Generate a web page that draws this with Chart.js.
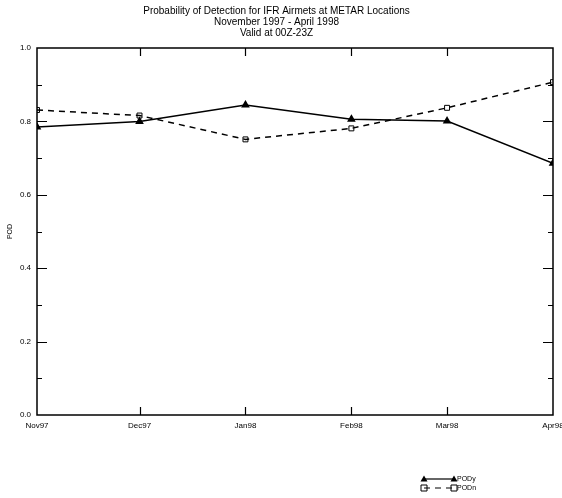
<!DOCTYPE html>
<html>
<head>
<meta charset="utf-8">
<script src="https://cdn.jsdelivr.net/npm/chart.js@4.4.1/dist/chart.umd.min.js"></script>
<style>
  html, body { margin: 0; padding: 0; background: #fff; }
</style>
</head>
<body>
<canvas id="pod" width="562" height="498"></canvas>
<script>
// months on the x axis, as day offsets from 1 Nov 1997
const months = ['Nov97', 'Dec97', 'Jan98', 'Feb98', 'Mar98', 'Apr98']
const monthDays = [0, 30, 61, 92, 120, 151]

const podY = [0.785, 0.800, 0.845, 0.806, 0.801, 0.686]
const podN = [0.831, 0.816, 0.751, 0.781, 0.837, 0.907]

const titleLines = [
    'Probability of Detection for IFR Airmets at METAR Locations',
    'November 1997 - April 1998',
    'Valid at 00Z-23Z'
]

const FONT = "'Liberation Sans', Arial, sans-serif"

function toPoints(values){
    return values.map((v, i) => ({x: monthDays[i], y: v}))
}

// box round the plot with inward ticks on all four sides
const frameTicks = {
    id: 'frameTicks',
    afterDatasetsDraw(chart){
        const {ctx, chartArea: a, scales: {x, y}} = chart
        ctx.save()
        ctx.strokeStyle = '#000'
        ctx.lineWidth = 1.5
        ctx.strokeRect(a.left, a.top, a.right - a.left, a.bottom - a.top)
        ctx.lineWidth = 1.2
        ctx.beginPath()
        for (let i = 1; i < 10; i++){
            const py = Math.round(y.getPixelForValue(i / 10)) + 0.5
            const len = i % 2 ? 5 : 10
            ctx.moveTo(a.left, py); ctx.lineTo(a.left + len, py)
            ctx.moveTo(a.right - len, py); ctx.lineTo(a.right, py)
        }
        monthDays.slice(1, -1).forEach(d => {
            const px = Math.round(x.getPixelForValue(d)) + 0.5
            ctx.moveTo(px, a.bottom); ctx.lineTo(px, a.bottom - 8)
            ctx.moveTo(px, a.top); ctx.lineTo(px, a.top + 8)
        })
        ctx.stroke()
        ctx.restore()
    }
}

function drawMarker(ctx, style, cx, cy){
    ctx.beginPath()
    if (style === 'triangle'){
        ctx.moveTo(cx, cy - 3.5)
        ctx.lineTo(cx + 3.5, cy + 2.5)
        ctx.lineTo(cx - 3.5, cy + 2.5)
        ctx.closePath()
        ctx.fill()
    } else {
        ctx.rect(cx - 3, cy - 3, 6, 6)
        ctx.stroke()
    }
}

// legend bottom right: line sample with a marker at each end
const sampleLegend = {
    id: 'sampleLegend',
    afterDraw(chart){
        const {ctx, chartArea: a} = chart
        const x0 = a.right - 129
        ctx.save()
        ctx.strokeStyle = '#000'
        ctx.fillStyle = '#000'
        ctx.font = '7px ' + FONT
        ctx.textBaseline = 'middle'
        chart.data.datasets.forEach((ds, i) => {
            const ly = a.bottom + 64 + i * 9
            ctx.lineWidth = 1.2
            ctx.setLineDash(ds.borderDash || [])
            ctx.beginPath()
            ctx.moveTo(x0, ly); ctx.lineTo(x0 + 30, ly)
            ctx.stroke()
            ctx.setLineDash([])
            ctx.lineWidth = 1
            drawMarker(ctx, ds.pointStyle, x0, ly)
            drawMarker(ctx, ds.pointStyle, x0 + 30, ly)
            ctx.fillText(ds.label, x0 + 33, ly)
        })
        ctx.restore()
    }
}

const config = {
    type: 'line',
    data: {
        datasets: [{
            label: 'PODy',
            data: toPoints(podY),
            borderColor: '#000',
            borderWidth: 1.5,
            pointStyle: 'triangle',
            pointRadius: 3.5,
            pointBackgroundColor: '#000',
            pointBorderColor: '#000',
            tension: 0
        }, {
            label: 'PODn',
            data: toPoints(podN),
            borderColor: '#000',
            borderWidth: 1.5,
            borderDash: [6, 5],
            pointStyle: 'rect',
            pointRadius: 3.5,
            pointBackgroundColor: 'rgba(0,0,0,0)',
            pointBorderColor: '#000',
            pointBorderWidth: 1,
            tension: 0
        }]
    },
    options: {
        responsive: false,
        animation: false,
        layout: {padding: {top: 1, right: 9, left: 0, bottom: 0}},
        plugins: {
            legend: {display: false},
            tooltip: {enabled: false},
            title: {
                display: true,
                text: titleLines,
                color: '#000',
                font: {family: FONT, size: 10, weight: 'normal', lineHeight: 1.1},
                padding: {top: 5, bottom: 9}
            }
        },
        scales: {
            x: {
                type: 'linear',
                min: monthDays[0],
                max: monthDays[monthDays.length - 1],
                grid: {display: false, drawTicks: false},
                border: {display: false},
                afterBuildTicks: scale => { scale.ticks = monthDays.map(v => ({value: v})) },
                afterFit: scale => {
                    scale.height = 83
                    scale.paddingLeft = 0
                    scale.paddingRight = 0
                },
                ticks: {
                    autoSkip: false,
                    maxRotation: 0,
                    padding: 6,
                    color: '#000',
                    font: {family: FONT, size: 8},
                    callback: v => months[monthDays.indexOf(v)]
                }
            },
            y: {
                min: 0,
                max: 1,
                grid: {display: false, drawTicks: false},
                border: {display: false},
                afterFit: scale => {
                    scale.width = 37
                    scale.paddingTop = 0
                    scale.paddingBottom = 0
                },
                title: {
                    display: true,
                    text: 'POD',
                    color: '#000',
                    font: {family: FONT, size: 7},
                    padding: {top: 6, bottom: 0}
                },
                ticks: {
                    stepSize: 0.2,
                    padding: 6,
                    color: '#000',
                    font: {family: FONT, size: 8},
                    callback: v => v.toFixed(1)
                }
            }
        }
    },
    plugins: [frameTicks, sampleLegend]
}

new Chart(document.getElementById('pod'), config)
</script>
</body>
</html>
